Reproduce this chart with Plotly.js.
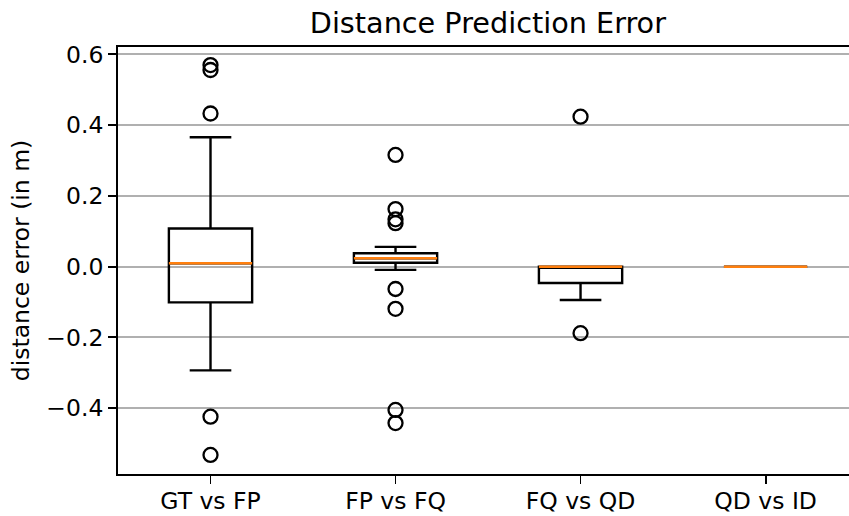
<!DOCTYPE html>
<html>
<head>
<meta charset="utf-8">
<script src="https://cdn.plot.ly/plotly-3.0.1.min.js"></script>
<style>html,body{margin:0;padding:0;overflow:hidden;background:#fff;}</style>
</head>
<body>
<div id="chart" style="width:849px;height:516px;"></div>
<script>
const categories = ['GT vs FP', 'FP vs FQ', 'FQ vs QD', 'QD vs ID'];
const positions = [1, 2, 3, 4];
const q1Values = [-0.101, 0.011, -0.046, 0.0];
const medianValues = [0.0096, 0.024, 0.0, 0.0];
const q3Values = [0.108, 0.038, 0.0, 0.0];
const lowerWhisker = [-0.293, -0.009, -0.094, 0.0];
const upperWhisker = [0.366, 0.056, 0.0, 0.0];
const outliers = [
  [0.570, 0.556, 0.433, -0.424, -0.532],
  [0.316, 0.163, 0.134, 0.123, -0.063, -0.119, -0.405, -0.442],
  [0.424, -0.188],
  []
];
const yTicks = [-0.4, -0.2, 0.0, 0.2, 0.4, 0.6];

const boxWidth = 0.45;
const FONT = 'DejaVu Sans, sans-serif';
const traces = [];

positions.forEach((p, i) => {
  traces.push({
    type: 'box',
    x: [p],
    q1: [q1Values[i]],
    median: [medianValues[i]],
    q3: [q3Values[i]],
    lowerfence: [lowerWhisker[i]],
    upperfence: [upperWhisker[i]],
    width: boxWidth,
    whiskerwidth: 0.5,
    boxpoints: false,
    line: {color: '#000000', width: 2.4},
    fillcolor: 'rgba(0,0,0,0)',
    showlegend: false,
    hoverinfo: 'skip'
  });
});

positions.forEach((p, i) => {
  traces.push({
    type: 'scatter',
    mode: 'lines',
    x: [p - boxWidth / 2, p + boxWidth / 2],
    y: [medianValues[i], medianValues[i]],
    line: {color: '#ff7f0e', width: 2.4},
    showlegend: false,
    hoverinfo: 'skip'
  });
});

positions.forEach((p, i) => {
  if (!outliers[i].length) return;
  traces.push({
    type: 'scatter',
    mode: 'markers',
    x: outliers[i].map(() => p),
    y: outliers[i],
    marker: {symbol: 'circle-open', size: 14, color: '#000000', line: {width: 2.3, color: '#000000'}},
    showlegend: false,
    hoverinfo: 'skip'
  });
});

const layout = {
  width: 849,
  height: 516,
  margin: {l: 118, r: 0, t: 47, b: 42, pad: 0},
  paper_bgcolor: '#ffffff',
  plot_bgcolor: '#ffffff',
  font: {family: FONT, color: '#000000', size: 23.5},
  title: {
    text: 'Distance Prediction Error',
    font: {family: FONT, size: 28.7, color: '#000000'},
    xref: 'paper', x: 0.506, xanchor: 'center',
    yref: 'container', y: 0.955, yanchor: 'middle'
  },
  xaxis: {
    range: [0.5, 4.451],
    tickmode: 'array',
    tickvals: positions,
    ticktext: categories,
    ticks: 'outside', ticklen: 8, tickwidth: 1.9, tickcolor: '#000000',
    ticklabelstandoff: -3,
    showgrid: false, zeroline: false,
    showline: true, linecolor: '#000000', linewidth: 1.9, mirror: true,
    tickfont: {family: FONT, size: 23.5, color: '#000000'}
  },
  yaxis: {
    range: [-0.586, 0.621],
    tickmode: 'array',
    tickvals: yTicks,
    tickformat: '.1f',
    ticks: 'outside', ticklen: 8, tickwidth: 1.9, tickcolor: '#000000',
    showgrid: true, gridcolor: '#b0b0b0', gridwidth: 1.9,
    zeroline: false,
    showline: true, linecolor: '#000000', linewidth: 1.9, mirror: false,
    tickfont: {family: FONT, size: 23.5, color: '#000000'},
    title: {text: 'distance error (in m)', font: {family: FONT, size: 23.5, color: '#000000'}, standoff: 10}
  },
  showlegend: false
};

Plotly.newPlot('chart', traces, layout, {displayModeBar: false, staticPlot: true});
</script>
</body>
</html>
